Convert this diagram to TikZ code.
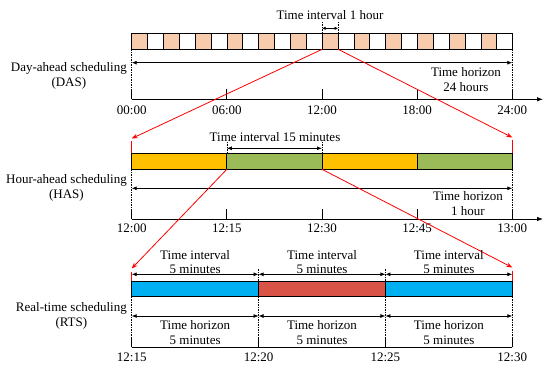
\documentclass[tikz,border=0pt]{standalone}
\usepackage{fontspec}
\setmainfont{Liberation Serif}
\usetikzlibrary{arrows.meta,calc}
\definecolor{peach}{HTML}{F8CBAD}
\definecolor{barorange}{HTML}{FFC000}
\definecolor{bargreen}{HTML}{9BBB59}
\definecolor{barblue}{HTML}{00B0F0}
\definecolor{barred}{HTML}{D95447}
\begin{document}
\begin{tikzpicture}[x=1pt,y=-1pt,
  lbl/.style={font=\fontsize{13}{15}\selectfont, align=center, inner sep=0pt},
  seg/.style={draw=black, line width=0.8pt},
  dimarrow/.style={{Latex[length=5pt,width=4pt]}-{Latex[length=5pt,width=4pt]}, line width=0.8pt},
  smallarrow/.style={{Latex[length=3.5pt,width=3.5pt]}-{Latex[length=3.5pt,width=3.5pt]}, line width=0.8pt},
  axisline/.style={line width=0.8pt},
  axisarrow/.style={line width=0.8pt, -{Latex[length=6pt,width=4.5pt]}},
  guide/.style={line width=0.6pt, dash pattern=on 1.5pt off 1pt},
  zoomline/.style={red, line width=0.8pt},
  zoomarrow/.style={red, line width=0.8pt, -{Stealth[length=6pt,width=4.5pt]}},
]
\useasboundingbox (0,0) rectangle (550,371);

% ---------------- DAS ----------------
\foreach \i in {0,...,23} {
  \pgfmathsetmacro\xa{131.7+\i*15.875}
  \pgfmathsetmacro\xb{131.7+(\i+1)*15.875}
  \ifodd\i \def\cc{white}\else\def\cc{peach}\fi
  \filldraw[seg, fill=\cc] (\xa,33.3) rectangle (\xb,49.3);
}
\coordinate (c12tl) at (322.2,33.3);
\coordinate (c12tr) at (338.1,33.3);
\coordinate (c12bl) at (322.2,49.3);
\coordinate (c12br) at (338.1,49.3);
\coordinate (d1top) at (322.2,21.5);
\coordinate (d2top) at (338.1,21.5);
\draw[guide] (c12tl) -- (d1top);
\draw[guide] (c12tr) -- (d2top);
\draw[smallarrow] (322.2,28.3) -- (338.1,28.3);
\node[lbl] (dasint) at (330,15) {Time interval 1 hour};

\coordinate (dasBL) at (131.7,49.3);
\coordinate (dasBR) at (512.3,49.3);
\draw[guide] (dasBL) -- (131.7,89.5);
\draw[guide] (dasBR) -- (512.3,89.5);
\draw[dimarrow] (131.7,62.7) -- (512.3,62.7);
\node[lbl] (dashor) at (466,80) {Time horizon\\24 hours};
\draw[axisarrow] (131.7,99.3) -- (543,99.3);
\foreach \x/\t in {131.7/00:00,226.85/06:00,322/12:00,417.15/18:00,512.3/24:00} {
  \draw[axisline] (\x,99.3) -- (\x,89.5);
  \node[lbl] at (\x,110.5) {\t};
}
\node[lbl, anchor=east] (daslbl) at (127,76) {Day-ahead scheduling\\(DAS)};

% ---------------- HAS ----------------
\coordinate (hasTL) at (131.7,153.3);
\coordinate (hasTR) at (512.3,153.3);
\coordinate (hasTipL) at (131.7,138.5);
\coordinate (hasTipR) at (512.3,137.5);
\draw[zoomarrow] (c12bl) -- (hasTipL);
\draw[zoomarrow] (c12br) -- (hasTipR);
\draw[zoomline] (131.7,141) -- (hasTL);
\draw[zoomline] (512.3,140) -- (hasTR);

\filldraw[seg, fill=barorange] (131.7,153.3) rectangle (226.85,169.3);
\filldraw[seg, fill=bargreen] (226.85,153.3) rectangle (322,169.3);
\filldraw[seg, fill=barorange] (322,153.3) rectangle (417.15,169.3);
\filldraw[seg, fill=bargreen] (417.15,153.3) rectangle (512.3,169.3);
\coordinate (h1bl) at (226.85,169.3);
\coordinate (h1br) at (322,169.3);
\draw[guide] (226.85,153.3) -- (226.85,142.5);
\draw[guide] (322,153.3) -- (322,142.5);
\draw[dimarrow] (226.85,148.3) -- (322,148.3);
\node[lbl] (hasint) at (275,137) {Time interval 15 minutes};

\draw[guide] (131.7,169.3) -- (131.7,209);
\draw[guide] (512.3,169.3) -- (512.3,209);
\draw[dimarrow] (131.7,188.3) -- (512.3,188.3);
\node[lbl] (hashor) at (468,204) {Time horizon\\1 hour};
\draw[axisarrow] (131.7,219) -- (543,219);
\foreach \x/\t in {131.7/12:00,226.85/12:15,322/12:30,417.15/12:45,512.3/13:00} {
  \draw[axisline] (\x,219) -- (\x,209);
  \node[lbl] at (\x,228.5) {\t};
}
\node[lbl, anchor=east] (haslbl) at (127,187.5) {Hour-ahead scheduling\\(HAS)};

% ---------------- RTS ----------------
\coordinate (rtsTL) at (131.7,281.7);
\coordinate (rtsTR) at (512.3,281.7);
\coordinate (rtsTipL) at (131.7,268.5);
\coordinate (rtsTipR) at (512.3,267.5);
\draw[zoomarrow] (h1bl) -- (rtsTipL);
\draw[zoomarrow] (h1br) -- (rtsTipR);
\draw[zoomline] (131.7,272) -- (rtsTL);
\draw[zoomline] (512.3,271) -- (rtsTR);

\draw[guide] (258.57,269.5) -- (258.57,337.3);
\draw[guide] (385.43,269.5) -- (385.43,337.3);
\draw[guide] (131.7,296.7) -- (131.7,337.3);
\draw[guide] (512.3,296.7) -- (512.3,337.3);
\filldraw[seg, fill=barblue] (131.7,281.7) rectangle (258.57,296.7);
\filldraw[seg, fill=barred] (258.57,281.7) rectangle (385.43,296.7);
\filldraw[seg, fill=barblue] (385.43,281.7) rectangle (512.3,296.7);
\foreach \xa/\xb in {131.7/258.57,258.57/385.43,385.43/512.3} {
  \draw[dimarrow] (\xa,274.3) -- (\xb,274.3);
  \draw[dimarrow] (\xa,316) -- (\xb,316);
  \node[lbl, font=\fontsize{13}{14}\selectfont] at ({(\xa+\xb)/2},262.5) {Time interval\\5 minutes};
  \node[lbl, font=\fontsize{13}{15.5}\selectfont] at ({(\xa+\xb)/2},332.5) {Time horizon\\5 minutes};
}
\draw[axisline] (131.7,347.3) -- (512.3,347.3);
\foreach \x/\t in {131.7/12:15,258.57/12:20,385.43/12:25,512.3/12:30} {
  \draw[axisline] (\x,347.3) -- (\x,337.3);
  \node[lbl] at (\x,357) {\t};
}
\node[lbl, anchor=east] (rtslbl) at (127,315.5) {Real-time scheduling\\(RTS)};
\end{tikzpicture}
\end{document}
